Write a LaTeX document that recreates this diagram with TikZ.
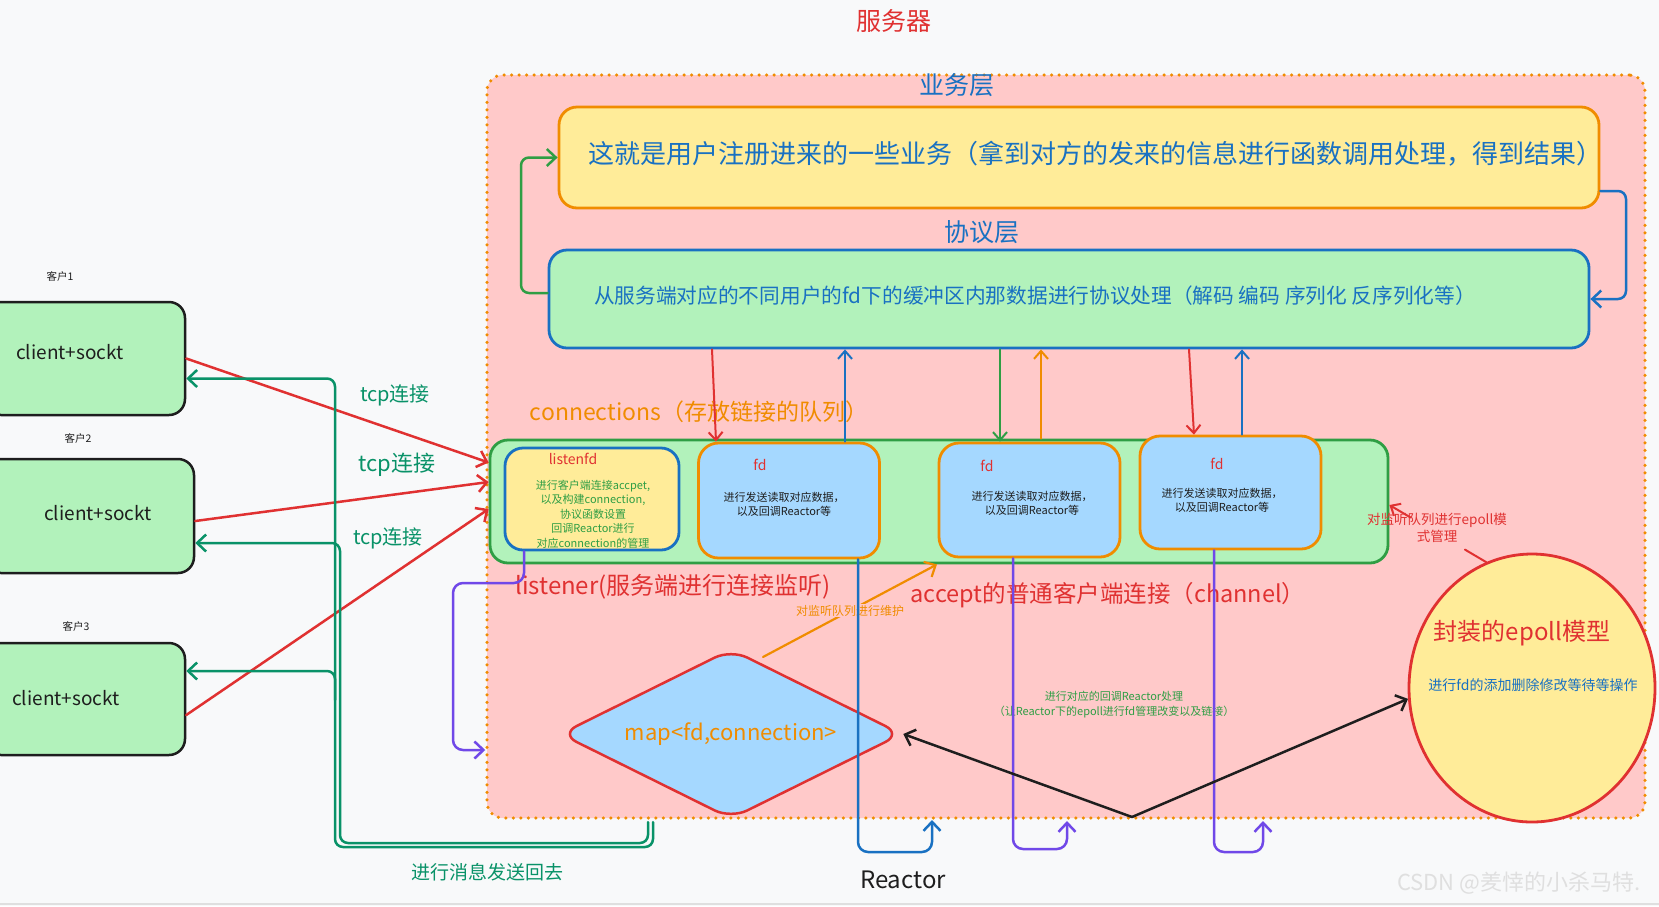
\documentclass[tikz,border=0pt]{standalone}
\usepackage{fontspec}
\setmainfont{Noto Sans CJK SC}
\usetikzlibrary{shapes.geometric, positioning, arrows.meta, calc}
\definecolor{ink}{RGB}{30,30,30}
\definecolor{xred}{RGB}{224,49,49}
\definecolor{xorange}{RGB}{240,140,0}
\definecolor{xblue}{RGB}{25,113,194}
\definecolor{xgreen}{RGB}{47,158,68}
\definecolor{xteal}{RGB}{9,146,104}
\definecolor{xviolet}{RGB}{112,72,232}
\definecolor{srvpink}{RGB}{255,201,201}
\definecolor{softyellow}{RGB}{255,236,153}
\definecolor{softgreen}{RGB}{178,242,187}
\definecolor{softblue}{RGB}{165,216,255}
\definecolor{canvas}{RGB}{248,249,250}
\newcommand{\fsz}[2]{\fontsize{#1}{#2}\selectfont}

\begin{document}
\begin{tikzpicture}[x=1pt, y=-1pt,
  lbl/.style={inner sep=0pt, align=center},
  clientbox/.style={rectangle, draw=ink, line width=2.5pt, fill=softgreen, rounded corners=16pt},
  bigbox/.style={rectangle, line width=2.8pt, rounded corners=18pt},
  fdbox/.style={rectangle, draw=xorange, line width=2.8pt, fill=softblue, rounded corners=20pt, minimum width=181pt},
  arr/.style={-{Straight Barb[length=9pt, width=17pt]}, line width=2.5pt, line cap=round, line join=round},
  thinarr/.style={-{Straight Barb[length=8pt, width=14pt]}, line width=2pt, line cap=round, line join=round}]

\fill[canvas] (0,0) rectangle (1659,906);
\useasboundingbox (0,0) rectangle (1659,906);
\draw[gray!25, line width=1.5pt] (0,904) -- (1659,904);

\node[lbl, text=xred, font=\fsz{25}{28}] (title) at (894,21) {服务器};

\node[rectangle, draw=xorange, fill=srvpink, line width=3.5pt, dash pattern=on 0pt off 7.5pt, line cap=round,
      rounded corners=16pt, minimum width=1158pt, minimum height=743pt] (srv) at (1066,446.5) {};

% clients
\node[clientbox, minimum width=200pt, minimum height=113pt] (cl1) at (85,358.5) {};
\node[clientbox, minimum width=209pt, minimum height=114pt] (cl2) at (89.5,516) {};
\node[clientbox, minimum width=200pt, minimum height=112pt] (cl3) at (85,699) {};
\node[lbl, text=ink, font=\fsz{19}{22}] (cl1txt) at (70,352) {client+sockt};
\node[lbl, text=ink, font=\fsz{19}{22}] (cl2txt) at (98,513) {client+sockt};
\node[lbl, text=ink, font=\fsz{19}{22}] (cl3txt) at (66,698) {client+sockt};
\node[lbl, text=ink, font=\fsz{10.5}{12}] (cl1tag) at (60,276) {客户1};
\node[lbl, text=ink, font=\fsz{10.5}{12}] (cl2tag) at (78,438) {客户2};
\node[lbl, text=ink, font=\fsz{10.5}{12}] (cl3tag) at (76,626) {客户3};

% layers
\node[lbl, text=xblue, font=\fsz{25}{28}] (bizttl) at (957,85) {业务层};
\node[bigbox, draw=xorange, fill=softyellow, minimum width=1040pt, minimum height=101pt] (biz) at (1079,157.5) {};
\node[lbl, text=xblue, font=\fsz{26}{28}] (biztxt) at (1095,154) {这就是用户注册进来的一些业务（拿到对方的发来的信息进行函数调用处理，得到结果）};
\node[lbl, text=xblue, font=\fsz{25}{28}] (protottl) at (982,232) {协议层};
\node[bigbox, draw=xblue, fill=softgreen, minimum width=1040pt, minimum height=98pt] (proto) at (1069,299) {};
\node[lbl, text=xblue, font=\fsz{20.7}{24}] (prototxt) at (1035,296) {从服务端对应的不同用户的fd下的缓冲区内那数据进行协议处理（解码 编码 序列化 反序列化等）};

% connections
\node[lbl, text=xorange, font=\fsz{23}{26}] (conntxt) at (699,412) {connections（存放链接的队列）};
\node[bigbox, draw=xgreen, fill=softgreen, minimum width=898pt, minimum height=123pt] (conn) at (939,501.5) {};
\node[bigbox, draw=xblue, fill=softyellow, minimum width=174pt, minimum height=102pt] (lfd) at (592,499) {};
\node[lbl, text=xred, font=\fsz{14}{16}] (lfdttl) at (573,459) {listenfd};
\node[lbl, text=xgreen, font=\fsz{11}{14.5}] (lfdtxt) at (593,514) {进行客户端连接accpet,\\以及构建connection,\\协议函数设置\\回调Reactor进行\\对应connection的管理};
\node[fdbox, minimum height=115pt] (fd1) at (789,500.5) {};
\node[fdbox, minimum height=114pt] (fd2) at (1029.5,500) {};
\node[fdbox, minimum height=113pt] (fd3) at (1230.5,492.5) {};
\node[lbl, text=xred, font=\fsz{14}{16}] (fd1ttl) at (760,465) {fd};
\node[lbl, text=xred, font=\fsz{14}{16}] (fd2ttl) at (987,466) {fd};
\node[lbl, text=xred, font=\fsz{14}{16}] (fd3ttl) at (1217,464) {fd};
\node[lbl, text=ink, font=\fsz{11}{14}] (fd1txt) at (784,504) {进行发送读取对应数据，\\以及回调Reactor等};
\node[lbl, text=ink, font=\fsz{11}{14}] (fd2txt) at (1032,503.5) {进行发送读取对应数据，\\以及回调Reactor等};
\node[lbl, text=ink, font=\fsz{11}{14}] (fd3txt) at (1222,500) {进行发送读取对应数据，\\以及回调Reactor等};

\node[lbl, text=xred, font=\fsz{24}{26}] (lsntxt) at (673,587) {listener(服务端进行连接监听)};
\node[lbl, text=xred, font=\fsz{23.5}{26}] (acctxt) at (1108,595) {accept的普通客户端连接（channel）};

% map and epoll
\node[diamond, draw=xred, fill=softblue, line width=2.5pt, rounded corners=18pt, aspect=2, inner sep=0pt,
      minimum width=342pt, minimum height=170pt, text=xorange, font=\fsz{22}{24}] (dia) at (731,734) {map<fd,connection>};
\node[ellipse, draw=xred, fill=softyellow, line width=2.8pt, inner sep=0pt,
      minimum width=246pt, minimum height=268pt] (epoll) at (1532,688) {};
\node[lbl, text=xred, font=\fsz{24}{26}] (epollttl) at (1522,633) {封装的epoll模型};
\node[lbl, text=xblue, font=\fsz{14}{16}] (epolltxt) at (1533,685) {进行fd的添加删除修改等待等操作};

\node[lbl, text=xgreen, font=\fsz{11}{15}] (cbtxt) at (1114,704.5) {进行对应的回调Reactor处理\\（让Reactor下的epoll进行fd管理改变以及链接）};
\node[lbl, text=xteal, font=\fsz{19}{22}] (backtxt) at (487,872) {进行消息发送回去};
\node[lbl, text=ink, font=\fsz{24}{26}] (reactor) at (903,880) {Reactor};
\node[lbl, text=xteal, font=\fsz{20}{22}] (tcp1) at (395,395) {tcp连接};
\node[lbl, text=xteal, font=\fsz{22}{24}] (tcp2) at (397,465) {tcp连接};
\node[lbl, text=xteal, font=\fsz{20}{22}] (tcp3) at (388,538) {tcp连接};

\coordinate (hub) at (1132,817);
\coordinate (rx1) at (932,820);
\coordinate (rx2) at (1067,821);
\coordinate (rx3) at (1263,821);
\coordinate (connR) at ([yshift=-3.5pt]conn.east);

% layer loops
\draw[arr, xgreen, rounded corners=8pt] ([yshift=6pt]proto.west) -| (521,157.5) -- (biz.west);
\draw[arr, xblue, rounded corners=8pt] ([yshift=-33.5pt]biz.east) -| (1626,299) -- (proto.east);

% protocol <-> connections
\draw[thinarr, xred] ([xshift=-357pt]proto.south) -- ([xshift=-73pt]fd1.north);
\draw[thinarr, xblue] ([xshift=56pt]fd1.north) -- ([xshift=-224pt]proto.south);
\draw[thinarr, xgreen] ([xshift=-69pt]proto.south) -- ([xshift=-29.5pt]fd2.north);
\draw[thinarr, xorange] ([xshift=102pt]conn.north) -- ([xshift=-28pt]proto.south);
\draw[thinarr, xred] ([xshift=120pt]proto.south) -- ([xshift=-36.5pt]fd3.north);
\draw[thinarr, xblue] ([xshift=11.5pt]fd3.north) -- ([xshift=173pt]proto.south);

% clients
\draw[arr, xred] (cl1.east) -- ([yshift=39pt]conn.west);
\draw[arr, xred] ([yshift=-5pt]cl2.east) -- ([yshift=19.5pt]conn.west);
\draw[arr, xred] ([yshift=-16pt]cl3.east) -- ([yshift=-7.5pt]conn.west);
\draw[arr, xteal, rounded corners=8pt] (653,822) |- (335,847) |- ([yshift=-20pt]cl1.east);
\draw[arr, xteal, rounded corners=8pt] (335,700) |- ([yshift=28pt]cl3.east);
\draw[arr, xteal, rounded corners=8pt] (648,822) |- (340,843) |- ([yshift=-27pt]cl2.east);

\draw[arr, xviolet, rounded corners=10pt] ([xshift=-68pt]lfd.south) |- (453,583) |- ([yshift=-303.5pt]srv.west);

\draw[arr, xorange, line width=2.2pt] (763,657) --
  node[lbl, pos=0.5, fill=srvpink, inner sep=1pt, text=xorange, font=\fsz{12}{14}] {对监听队列进行维护} ([xshift=-2pt]conn.south);

% reactor loops
\draw[arr, xblue, rounded corners=10pt] ([xshift=69pt]fd1.south) -- (858,852) -| (rx1);
\draw[arr, xviolet, rounded corners=10pt] ([xshift=-16.5pt]fd2.south) -- (1013,849) -| (rx2);
\draw[arr, xviolet, rounded corners=10pt] ([xshift=-16.5pt]fd3.south) -- (1214,852) -| (rx3);

\draw[arr, ink] (hub) -- (dia.east);
\draw[arr, ink] (hub) -- (epoll.185);

% epoll -> connections
\draw[xred, line width=2pt, line cap=round] (epoll.110) -- ($(epoll.110)!0.22!(connR)$);
\draw[thinarr, xred] ($(epoll.110)!0.78!(connR)$) -- (connR);
\node[lbl, text=xred, font=\fsz{13.5}{17}] (epolltag) at (1437,528) {对监听队列进行epoll模\\式管理};

\node[anchor=west, inner sep=0pt, text=gray!25, font=\fsz{22}{24}] (mark) at (1397,883) {CSDN @羑悻的小杀马特.};
\end{tikzpicture}
\end{document}
